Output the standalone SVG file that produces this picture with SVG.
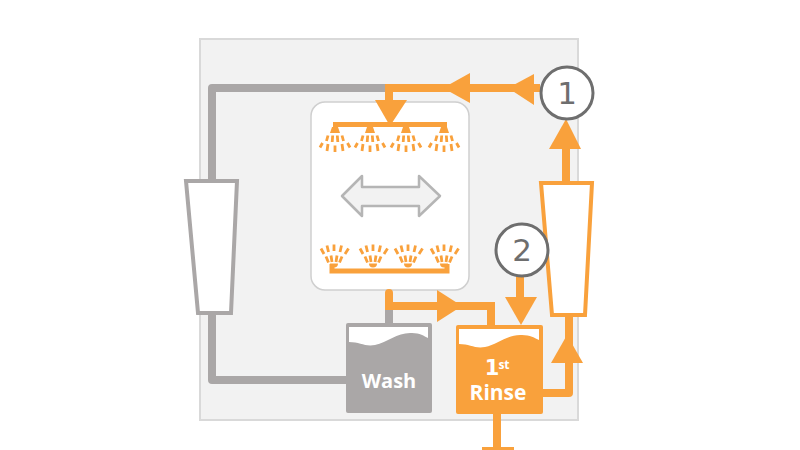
<svg xmlns="http://www.w3.org/2000/svg" width="800" height="450" viewBox="0 0 800 450">
<style>
.o{fill:none;stroke:#f9a13c;stroke-width:8}
.g{fill:none;stroke:#aaa7a7;stroke-width:8;stroke-linejoin:round}
.ah{fill:#f9a13c}
.dr{stroke:#f9a13c;stroke-width:2.8;fill:none}
.t{font-family:"Open Sans","Noto Sans",sans-serif;font-weight:700;fill:#fff;text-anchor:middle}
.n{font-family:"DejaVu Sans",sans-serif;font-size:31px;fill:#6e6e6e;text-anchor:middle}
.c{fill:#fff;stroke:#6e6e6e;stroke-width:3}
</style>
<defs>
<g id="sd">
<path class="ah" d="M-3,-3H3L5,3H-5Z"/>
<path class="dr" d="M-7,5.500L-8.500,11M-2.300,5.500L-2.800,12M2.300,5.500L2.800,12M7,5.500L8.500,11M-12.500,13L-15,17.500M-7,14L-8,21M0,15.500V22M7,14L8,21M12.500,13L15,17.500"/>
</g>
<g id="su">
<path class="ah" d="M-4,-2H4A4,4 0 0 1 -4,-2Z" transform="translate(0,-0.5)"/>
<path class="dr" d="M-5.500,-3.500L-8,-9.500M-2,-4L-3,-10.500M2,-4L3,-10.500M5.500,-3.500L8,-9.500M-10,-12L-13,-17.500M-5.500,-14L-7,-20.500M0,-15V-21.500M6,-14L7.500,-20.500M11,-12L14.500,-17.500"/>
</g>
</defs>
<rect id="panel" x="200" y="39" width="378" height="381" fill="#f2f2f2" stroke="#d9d9d9" stroke-width="2"/>
<g id="chamber">
<rect x="311" y="102" width="158" height="188" rx="14" fill="#fff" stroke="#cfcfcf" stroke-width="1.5"/>
<path d="M342,196L362,176V187H419V176L440,196L419,216V206H362V216Z" fill="#f2f2f2" stroke="#b5b5b5" stroke-width="2.5" stroke-linejoin="round"/>
</g>
<g id="connectors">
<path class="g" d="M385,88H212V380H347"/>
<path class="g" d="M389,300V323"/>
<path class="o" d="M540,88H389V104"/>
<path class="ah" d="M375,100H407L390,126Z"/>
<path class="ah" d="M470,73V103L443,88Z"/>
<path class="ah" d="M534,74V105L508,88Z"/>
<path class="o" d="M333,124.500H447" style="stroke-width:5"/>
<path class="o" d="M332,264V271H447V264" style="stroke-width:5"/>
<path class="o" d="M389,293V306H491V326" stroke-linecap="round"/>
<path class="ah" d="M437,290L462,306L437,322Z"/>
<path class="o" d="M520,276V300"/>
<path class="ah" d="M505,297H537L521,325Z"/>
<path class="o" d="M543,393H569V315" stroke-linejoin="round"/>
<path class="ah" d="M551,363H583L567,335Z"/>
<path class="o" d="M566,183V140"/>
<path class="ah" d="M549,149H581L566,119Z"/>
<path class="o" d="M497,414V450"/>
<path class="ah" d="M482,447H514V450H482Z"/>
</g>
<g id="top-sprayers"><use href="#sd" x="335" y="130"/><use href="#sd" x="370" y="130"/><use href="#sd" x="406" y="130"/><use href="#sd" x="444" y="130"/></g>
<g id="bottom-sprayers"><use href="#su" x="334" y="266"/><use href="#su" x="373" y="266"/><use href="#su" x="408" y="266"/><use href="#su" x="444" y="266"/></g>
<g id="filter-left"><path d="M186,181H237L231,313H198Z" fill="#fff" stroke="#aaa7a7" stroke-width="4"/></g>
<g id="filter-right"><path d="M541,183H592L585,315H552Z" fill="#fff" stroke="#f9a13c" stroke-width="4"/></g>
<g id="wash-tank">
<rect x="346" y="323" width="86" height="90" rx="2" fill="#aaa7a7"/>
<path d="M349,327V342C360,342 365,347 375,345C388,342 398,332 412,333C420,333 424,336 428,338V327Z" fill="#fff"/>
<text class="t" x="389" y="388" font-size="20">Wash</text>
</g>
<g id="rinse-tank">
<rect x="456" y="325" width="87" height="89" rx="2" fill="#f9a13c"/>
<path d="M459,329V344C470,344 475,349 485,347C498,344 508,334 522,335C530,335 535,338 539,340V329Z" fill="#fff"/>
<text class="t" x="492" y="375" font-size="21" style="font-family:'DejaVu Sans',sans-serif">1</text>
<text class="t" x="504" y="369" font-size="12">st</text>
<text class="t" x="498" y="400" font-size="21">Rinse</text>
</g>
<g id="node-1"><circle class="c" cx="567" cy="93" r="26"/><text class="n" x="567" y="104">1</text></g>
<g id="node-2"><circle class="c" cx="522" cy="250" r="26"/><text class="n" x="522" y="261">2</text></g>
</svg>
